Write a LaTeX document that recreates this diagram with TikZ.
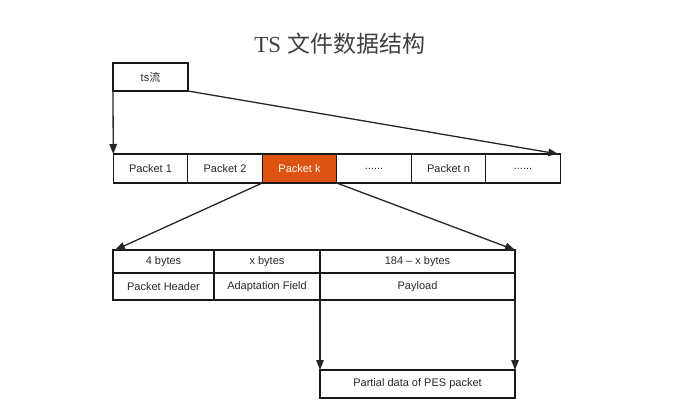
\documentclass[tikz,border=0pt]{standalone}
\usepackage{fontspec}
\setmainfont{Liberation Sans}
\newfontfamily\cjk{Noto Sans CJK SC}
\newfontfamily\titleserif{Liberation Serif}
\usepackage{xcolor}
\definecolor{tsorange}{RGB}{222,82,18}
\definecolor{tstext}{RGB}{40,40,40}
\usetikzlibrary{arrows.meta,positioning}

\begin{document}
\begin{tikzpicture}[x=1pt, y=-1pt,
  cell/.style={draw=black!90, line width=1.3pt, outer sep=0pt, inner sep=0pt, text=tstext, font=\fontsize{11}{13}\selectfont, minimum height=29pt},
  pkt/.style={cell, minimum width=74.5pt},
  hot/.style={pkt, fill=tsorange, text=white},
  arr/.style={-{Triangle[length=10pt,width=7.5pt]}, line width=1.3pt, draw=black!85}]
  \useasboundingbox (0,0) rectangle (676,418);
  % title
  \node[font=\fontsize{23}{27}\selectfont, text=black!75] (title) at (340,44) {{\titleserif TS} {\cjk 文件数据结构}};
  % ts stream
  \node[cell, minimum width=75pt, minimum height=28pt] (ts) at (150.5,77) {ts{\cjk 流}};
  % packet row
  \node[pkt] (p1) at (150.5,168.5) {Packet 1};
  \node[pkt, right=0pt of p1] (p2) {Packet 2};
  \node[hot, right=0pt of p2] (pk) {Packet k};
  \node[pkt, right=0pt of pk] (p4) {......};
  \node[pkt, right=0pt of p4] (pn) {Packet n};
  \node[pkt, right=0pt of pn] (p6) {......};
  % packet layout
  \node[cell, minimum width=101pt, minimum height=23pt] (h1) at (163.5,261.5) {4 bytes};
  \node[cell, minimum width=106pt, minimum height=23pt, right=0pt of h1] (h2) {x bytes};
  \node[cell, minimum width=195pt, minimum height=23pt, right=0pt of h2] (h3) {184 -- x bytes};
  \node[cell, minimum width=101pt, minimum height=27pt, below=0pt of h1] (b1) {Packet Header};
  \node[cell, minimum width=106pt, minimum height=27pt, below=0pt of h2] (b2) {Adaptation Field};
  \node[cell, minimum width=195pt, minimum height=27pt, below=0pt of h3] (b3) {Payload};
  \node[cell, minimum width=195pt, minimum height=28pt] (pes) at (417.5,384) {Partial data of PES packet};
  % connectors
  \draw[arr] (ts.south west) -- (p1.north west);
  \draw[arr] (ts.south east) -- ([xshift=-2pt]p6.north east);
  \draw[arr] (pk.south west) -- ([xshift=2pt]h1.north west);
  \draw[arr] (pk.south east) -- (h3.north east);
  \draw[arr] (b3.south west) -- (pes.north west);
  \draw[arr] (b3.south east) -- (pes.north east);
\end{tikzpicture}
\end{document}
